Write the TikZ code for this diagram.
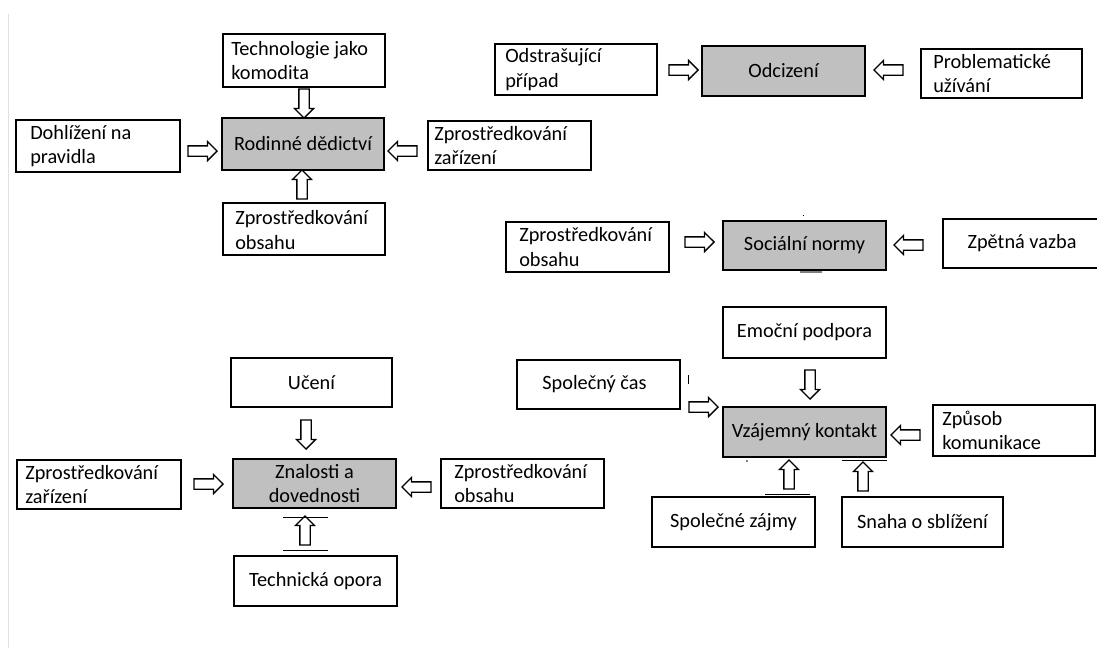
\documentclass[tikz,border=0pt]{standalone}
\usepackage{fontspec}
\setmainfont{Carlito}
\usetikzlibrary{shapes.arrows,calc,fit}
\definecolor{boxgray}{RGB}{192,192,192}
\definecolor{edgeline}{RGB}{218,226,238}
\tikzset{
  box/.style={draw=black, line width=1.9pt, fill=white, inner sep=0pt},
  graybox/.style={box, fill=boxgray},
  txt/.style={font=\fontsize{20.3}{24.5}\selectfont, align=left, inner sep=0pt},
  ctxt/.style={font=\fontsize{20.3}{24.5}\selectfont, align=center, inner sep=0pt},
  barrow/.style={single arrow, draw=black, fill=white, line width=1.3pt,
    minimum height=29pt, minimum width=0pt, inner sep=4.5pt,
    single arrow head extend=4.5pt, single arrow tip angle=90},
  rt/.style={barrow, shape border rotate=0},
  lt/.style={barrow, shape border rotate=180},
  up/.style={barrow, shape border rotate=90},
  dn/.style={barrow, shape border rotate=270},
  artifact/.style={draw=black, line width=0.8pt},
}
\newcommand\mkbox[6]{\node[#2, fit={(#3,#4) (#5,#6)}] (#1) {};}
\begin{document}
\begin{tikzpicture}[x=1pt, y=-1pt]
\useasboundingbox (0,0) rectangle (1097,648);
\clip (0,0) rectangle (1097,648);
\fill[white] (0,0) rectangle (1097,648);
\draw[edgeline, line width=1pt] (8.5,14) -- (8.5,648);

% ---- Rodinné dědictví group
\mkbox{b1}{box}{223}{34}{385}{87}
\node[txt, anchor=west] (t1) at ($(b1.west)+(9,0)$) {Technologie jako\\komodita};
\mkbox{b2}{graybox}{222}{118}{384}{170}
\node[ctxt] (t2) at (b2) {Rodinné dědictví};
\mkbox{b3}{box}{16}{120}{180}{172}
\node[txt, anchor=west] (t3) at ($(b3.west)+(15,0)$) {Dohlížení na\\pravidla};
\mkbox{b4}{box}{428}{121}{591}{170}
\node[txt, anchor=west] (t4) at ($(b4.west)+(7,0)$) {Zprostředkování\\zařízení};
\mkbox{b5}{box}{223}{203}{385}{255}
\node[txt, anchor=west] (t5) at ($(b5.west)+(13,1)$) {Zprostředkování\\obsahu};
\node[dn] (a1) at (304,101) {};
\node[rt] (a2) at (200,151) {};
\node[lt] (a3) at (405,151) {};
\node[up] (a4) at (302,187) {};

% ---- Odcizení group
\mkbox{b6}{box}{495}{44}{657}{95}
\node[txt, anchor=west] (t6) at ($(b6.west)+(11,0)$) {Odstrašující\\případ};
\mkbox{b7}{graybox}{702}{46}{865}{96}
\node[ctxt] (t7) at (b7) {Odcizení};
\mkbox{b8}{box}{921}{49}{1082}{98}
\node[txt, anchor=west] (t8) at ($(b8.west)+(13,0)$) {Problematické\\užívání};
\node[rt] (a5) at (681,70) {};
\node[lt] (a6) at (891,70) {};

% ---- Sociální normy group
\mkbox{b9}{box}{506}{222}{669}{272}
\node[txt, anchor=west] (t9) at ($(b9.west)+(14,0)$) {Zprostředkování\\obsahu};
\mkbox{b10}{graybox}{723}{221}{886}{270}
\node[ctxt] (t10) at (b10) {Sociální normy};
\mkbox{b11}{box}{943}{219}{1110}{268}
\node[ctxt] (t11) at (1022,243) {Zpětná vazba};
\node[rt] (a7) at (697,242) {};
\node[lt] (a8) at (911,245) {};
\draw[artifact] (b10.north) ++(-1,-4) -- ++(0,-1.5);
\draw[gray, line width=2pt] (800,272) -- (822,272);

% ---- Vzájemný kontakt group
\mkbox{b12}{box}{723}{307}{886}{358}
\node[ctxt] (t12) at (b12) {Emoční podpora};
\mkbox{b13}{box}{517}{360}{680}{409}
\node[ctxt] (t13) at ($(b13)+(-4,0)$) {Společný čas};
\mkbox{b14}{graybox}{723}{407}{886}{457}
\node[ctxt] (t14) at (b14) {Vzájemný kontakt};
\mkbox{b15}{box}{933}{405}{1095}{456}
\node[txt, anchor=west] (t15) at ($(b15.west)+(10,0)$) {Způsob\\komunikace};
\mkbox{b16}{box}{652}{497}{815}{547}
\node[ctxt] (t16) at (b16) {Společné zájmy};
\mkbox{b17}{box}{842}{497}{1003}{547}
\node[ctxt] (t17) at (b17) {Snaha o sblížení};
\node[dn] (a9) at (810,382) {};
\node[rt] (a10) at (701,407) {};
\node[lt] (a11) at (908,435) {};
\node[up] (a12) at (789,477) {};
\node[up] (a13) at (863,479) {};
\draw[artifact] (688,375) -- (688,384);
\draw[artifact] (765,494) -- (810,494);
\draw[artifact] (842,460) -- (887,460);
\fill (747,461) circle (0.8);

% ---- Znalosti a dovednosti group
\mkbox{b18}{box}{231}{358}{392}{407}
\node[ctxt] (t18) at (b18) {Učení};
\mkbox{b19}{graybox}{233}{459}{396}{508}
\node[ctxt] (t19) at ($(b19)+(0,0)$) {Znalosti a\\dovednosti};
\mkbox{b20}{box}{17}{460}{181}{509}
\node[txt, anchor=west] (t20) at ($(b20.west)+(9,0)$) {Zprostředkování\\zařízení};
\mkbox{b21}{box}{441}{459}{604}{508}
\node[txt, anchor=west] (t21) at ($(b21.west)+(14,0)$) {Zprostředkování\\obsahu};
\mkbox{b22}{box}{234}{556}{397}{606}
\node[ctxt] (t22) at (b22) {Technická opora};
\node[dn] (a14) at (306,432) {};
\node[rt] (a15) at (206,484) {};
\node[lt] (a16) at (419,487) {};
\node[up] (a17) at (305,533) {};
\draw[artifact] (283,517) -- (328,517);
\draw[artifact] (283,550) -- (328,550);
\end{tikzpicture}
\end{document}
